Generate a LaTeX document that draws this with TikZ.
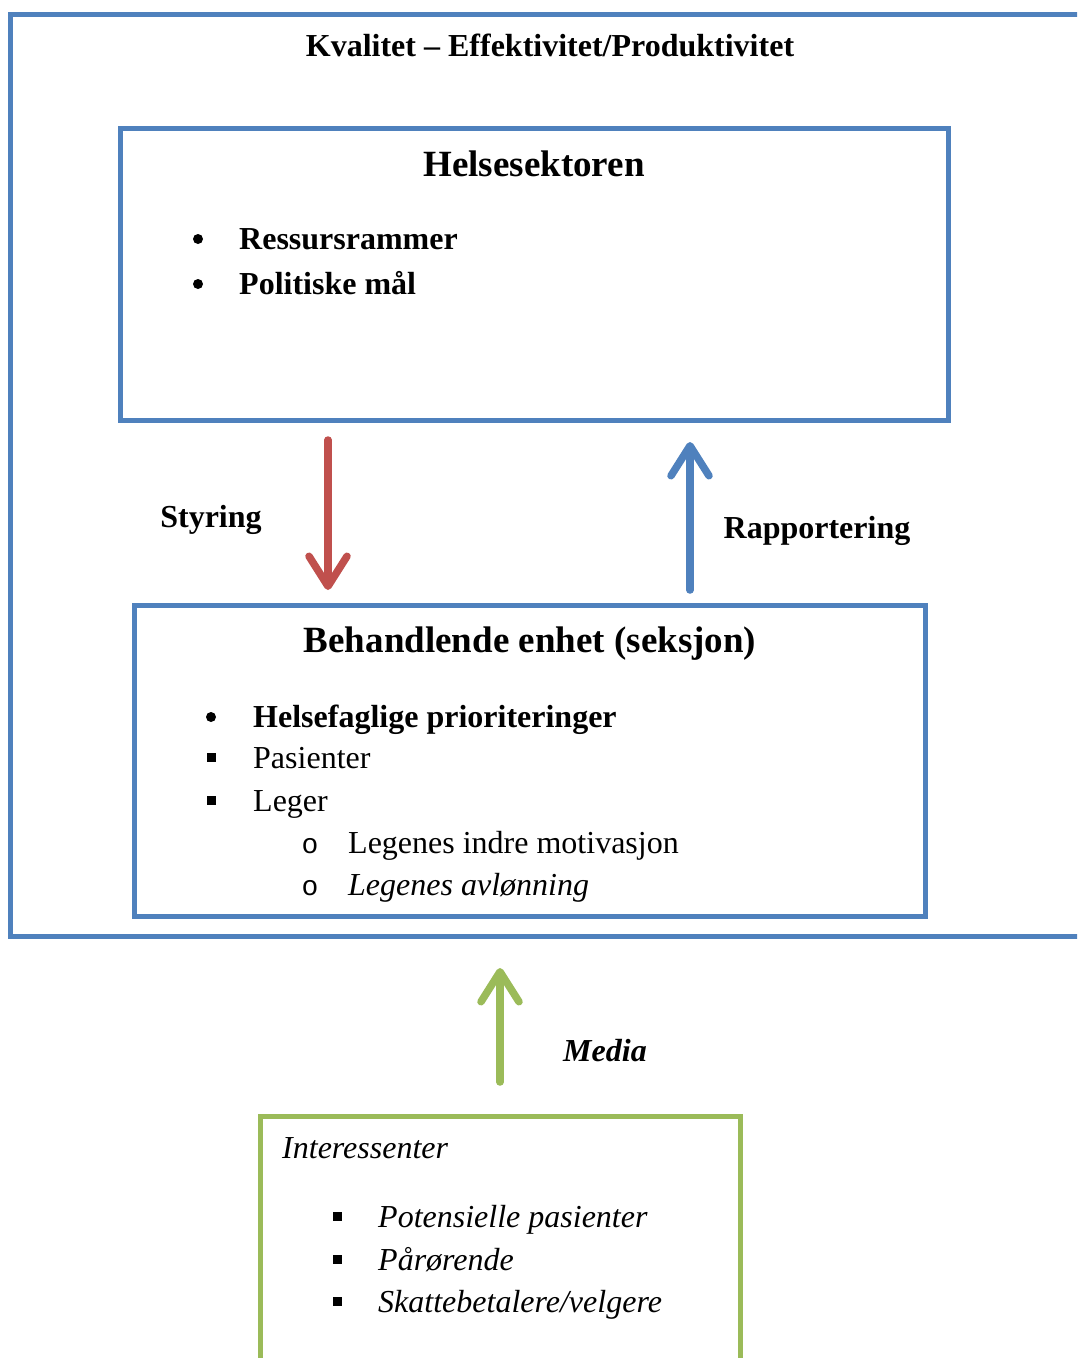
\documentclass[tikz,border=0pt]{standalone}
\usepackage{fontspec}
\setmainfont{Liberation Serif}
\newfontfamily\bulletfont{Liberation Mono}
\usetikzlibrary{arrows.meta,calc}
\definecolor{frameblue}{HTML}{4F81BD}
\definecolor{steerred}{HTML}{C0504D}
\definecolor{mediagreen}{HTML}{9BBB59}
\begin{document}
\begin{tikzpicture}[x=1pt,y=-1pt,
  frame/.style={draw=frameblue,line width=5pt,outer sep=0pt,inner sep=0pt,anchor=north west},
  txt/.style={inner sep=0pt,anchor=base west,font=\fontsize{32}{38}\selectfont},
  head/.style={inner sep=0pt,anchor=base,font=\fontsize{37}{44}\selectfont\bfseries},
  flow/.style={line width=7.5pt,line cap=round,-{Straight Barb[length=30pt,width=38pt,round]}},
  dotbullet/.style={circle,fill=black,inner sep=0pt,minimum size=10pt},
  sqbullet/.style={rectangle,fill=black,inner sep=0pt,minimum size=9pt},
  obullet/.style={inner sep=0pt,anchor=base,font=\fontsize{28}{34}\bulletfont},
]
\clip (0,0) rectangle (1077,1358);
\fill[white] (0,0) rectangle (1077,1358);

% outer frame (runs past the right edge)
\node[frame,minimum width=1090pt,minimum height=922pt] (outer) at (10,14) {};
\node[txt,anchor=base,font=\fontsize{32}{38}\selectfont\bfseries] (title) at (550,56)
  {Kvalitet – Effektivitet/Produktivitet};

% health sector box
\node[frame,minimum width=828pt,minimum height=292pt] (hs) at (120,128) {};
\node[head] (hstitle) at (534,176) {Helsesektoren};
\node[dotbullet] (hb1) at (198,239) {};
\node[txt,font=\fontsize{32}{38}\selectfont\bfseries] (hi1) at (239,249) {Ressursrammer};
\node[dotbullet] (hb2) at (198,284) {};
\node[txt,font=\fontsize{32}{38}\selectfont\bfseries] (hi2) at (239,294) {Politiske mål};

% treating unit box
\node[frame,minimum width=791pt,minimum height=311pt] (beh) at (134,605) {};
\node[head] (behtitle) at (530,652) {Behandlende enhet (seksjon)};
\node[dotbullet] (bb1) at (211,717) {};
\node[txt,font=\fontsize{32}{38}\selectfont\bfseries] (bi1) at (253,727) {Helsefaglige prioriteringer};
\node[sqbullet] (bb2) at (211,757) {};
\node[txt] (bi2) at (253,768) {Pasienter};
\node[sqbullet] (bb3) at (211,800) {};
\node[txt] (bi3) at (253,811) {Leger};
\node[obullet] (bb4) at (310,853) {o};
\node[txt] (bi4) at (348,853) {Legenes indre motivasjon};
\node[obullet] (bb5) at (310,895) {o};
\node[txt,font=\fontsize{32}{38}\selectfont\itshape] (bi5) at (348,895) {Legenes avlønning};

% stakeholders box (runs past the bottom edge)
\node[frame,draw=mediagreen,minimum width=480pt,minimum height=290pt] (stake) at (260,1116) {};
\node[txt,font=\fontsize{32}{38}\selectfont\itshape] (stitle) at (282,1158) {Interessenter};
\node[sqbullet] (sb1) at (337,1216) {};
\node[txt,font=\fontsize{32}{38}\selectfont\itshape] (si1) at (378,1227) {Potensielle pasienter};
\node[sqbullet] (sb2) at (337,1259) {};
\node[txt,font=\fontsize{32}{38}\selectfont\itshape] (si2) at (378,1270) {Pårørende};
\node[sqbullet] (sb3) at (337,1301) {};
\node[txt,font=\fontsize{32}{38}\selectfont\itshape] (si3) at (378,1312) {Skattebetalere/velgere};

% arrows between the levels
\draw[flow,steerred] ($(hs.south west)+(208,20)$) -- ($(beh.north west)+(194,-15)$);
\draw[flow,frameblue] ($(beh.north west)+(556,-15)$) -- ($(hs.south west)+(570,22)$);
\draw[flow,mediagreen] ($(stake.north west)+(240,-34)$) -- ($(outer.south west)+(490,32)$);

\node[txt,anchor=base,font=\fontsize{32}{38}\selectfont\bfseries] (styring) at (211,527) {Styring};
\node[txt,anchor=base,font=\fontsize{32}{38}\selectfont\bfseries] (rapp) at (817,538) {Rapportering};
\node[txt,anchor=base,font=\fontsize{32}{38}\selectfont\bfseries\itshape] (media) at (605,1061) {Media};
\end{tikzpicture}
\end{document}
